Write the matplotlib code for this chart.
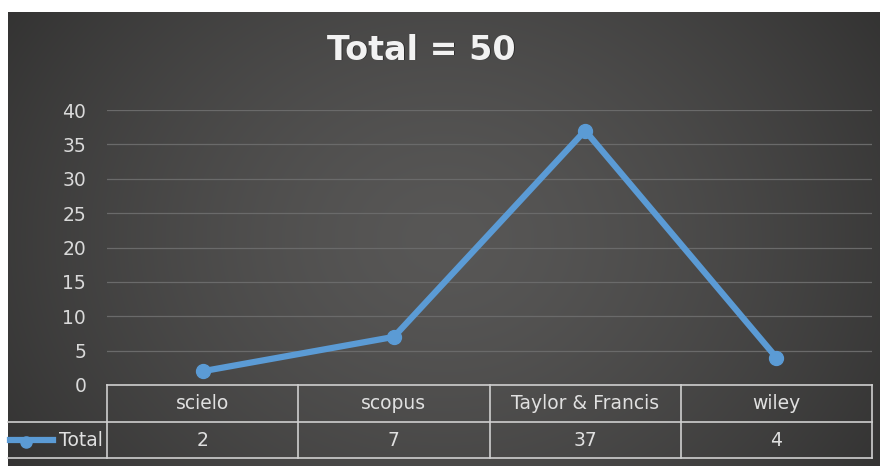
import matplotlib.pyplot as plt
import numpy as np
from matplotlib.lines import Line2D

# --- Datos ---
categories = ["scielo", "scopus", "Taylor & Francis", "wiley"]
totals = [2, 7, 37, 4]
series_name = "Total"
title = "Total = 50"

W, H = 880, 466
fig = plt.figure(figsize=(W / 100, H / 100), dpi=100, facecolor="white")

# --- Fondo oscuro con degradado radial (estilo Excel) ---
bg = fig.add_axes([8 / W, 0, (W - 8) / W, (H - 12) / H])
yy, xx = np.mgrid[-1:1:200j, -1:1:400j]
r = np.sqrt((xx * 0.95) ** 2 + (yy * 0.6) ** 2)
shade = np.clip(0.345 - 0.12 * r ** 1.4, 0.2, 1)
img = np.dstack([shade * 1.0, shade * 0.99, shade * 0.98])
bg.imshow(img, aspect="auto", extent=[0, 1, 0, 1], interpolation="bicubic")
bg.set_axis_off()

# --- Area de trazado ---
x0, x1 = 107, 872
y_top, y_zero = 110, 385
ax = fig.add_axes([x0 / W, (H - y_zero) / H, (x1 - x0) / W, (y_zero - y_top) / H])
ax.patch.set_alpha(0)

xs = np.arange(len(categories))
line_color = "#5B9BD5"
ax.plot(xs, totals, color=line_color, lw=4.5, marker="o", ms=10,
        mfc=line_color, mec=line_color, solid_capstyle="round", clip_on=False, zorder=3)

ax.set_xlim(-0.5, len(categories) - 0.5)
ax.set_ylim(0, 40)
ax.set_yticks(range(0, 41, 5))
ax.set_xticks([])
ax.yaxis.grid(True, color="#6a6a6a", lw=0.9)
ax.set_axisbelow(True)
for s in ax.spines.values():
    s.set_visible(False)
ax.tick_params(axis="y", length=0, pad=15, labelsize=13.5, labelcolor="#d9d9d9")

# --- Tabla de datos bajo el eje ---
grid_col = "#cfcfcf"
row1 = -37 / 275
row2 = -73 / 275
left_ext = (8 - x0) / (x1 - x0)
kw = dict(transform=ax.transAxes, color=grid_col, lw=1.2, clip_on=False)
ax.add_line(Line2D([0, 1], [0, 0], **kw))
ax.add_line(Line2D([left_ext, 1], [row1, row1], **kw))
ax.add_line(Line2D([left_ext, 1], [row2, row2], **kw))
n = len(categories)
for i in range(n + 1):
    ax.add_line(Line2D([i / n, i / n], [0, row2], **kw))

txt = dict(transform=ax.transAxes, color="#e0e0e0", fontsize=13.5, ha="center", va="center")
for i, (cat, val) in enumerate(zip(categories, totals)):
    xc = (i + 0.5) / n
    ax.text(xc, row1 / 2, cat, **txt)
    ax.text(xc, (row1 + row2) / 2, str(val), **txt)

# clave de leyenda + nombre de la serie
ymid = (row1 + row2) / 2
ax.add_line(Line2D([left_ext + 0.002, -0.07], [ymid, ymid], transform=ax.transAxes,
                   color=line_color, lw=4.5, clip_on=False))
ax.add_line(Line2D([left_ext + 0.024], [ymid - 0.008], transform=ax.transAxes,
                   marker="o", ms=8, color=line_color, clip_on=False))
ax.text(-0.006, ymid, series_name, transform=ax.transAxes, color="#e0e0e0",
        fontsize=13.5, ha="right", va="center")

# --- Titulo ---
fig.text(422 / W, 1 - 51 / H, title, ha="center", va="center", fontsize=24,
         fontweight="bold", color="#1a1a1a", alpha=0.6)
fig.text(421 / W, 1 - 50 / H, title, ha="center", va="center", fontsize=24,
         fontweight="bold", color="#f2f2f2")

fig.savefig("out.png", dpi=100, facecolor="white")
